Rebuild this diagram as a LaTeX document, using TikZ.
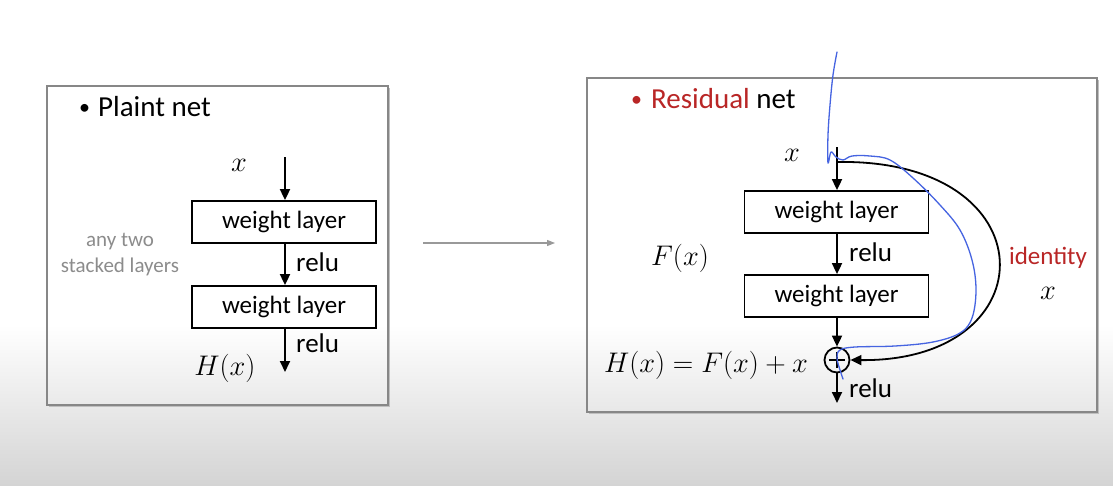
\documentclass[tikz,border=0pt]{standalone}
\usepackage{graphicx}
\usepackage{fontspec}
\setmainfont{Carlito}
\usetikzlibrary{arrows.meta}
\definecolor{resred}{RGB}{185,38,38}
\definecolor{boxgray}{RGB}{135,135,135}
\definecolor{annblue}{RGB}{70,100,225}
\definecolor{bggray}{RGB}{212,212,212}
\newcommand{\mymath}[1]{\scalebox{1.14}{$#1$}}
\tikzset{
  wl/.style={draw, line width=1.8pt, minimum width=184pt, minimum height=42pt, inner sep=0pt, font=\fontsize{25}{28}\selectfont},
  arr/.style={line width=1.8pt, -{Triangle[length=11pt,width=10pt]}},
  lbl/.style={font=\fontsize{27}{30}\selectfont, inner sep=0pt},
  mth/.style={font=\fontsize{24.88}{30}\selectfont, inner sep=0pt},
  frame/.style={draw=boxgray, line width=1.4pt},
  ttl/.style={font=\fontsize{29}{32}\selectfont, inner sep=0pt, anchor=base west},
  blt/.style={font=\fontsize{22}{26}\selectfont, inner sep=0pt, anchor=base west},
}
\begin{document}
\begin{tikzpicture}[x=1pt,y=-1pt]
\useasboundingbox (0,0) rectangle (1113,485);
\fill[white] (0,0) rectangle (1113,330);
\shade[top color=white, bottom color=bggray] (0,325) rectangle (1113,485);

% ---------------- Left: plain net ----------------
\draw[frame] (47,86) rectangle (388,405);
\draw[black!25, line width=1pt] (49,406.5) -- (389.5,406.5) -- (389.5,88);
\node[blt] (pb) at (79,114) {\textbullet};
\node[ttl] (pt) at (98,116) {Plaint net};

\coordinate (lin) at (285,157);
\node[wl] (lw1) at (284,222) {weight layer};
\node[wl] (lw2) at (284,307) {weight layer};
\coordinate (lout) at (285,372);
\draw[arr] (lin) -- (lw1.north -| lin);
\draw[arr] (lw1.south -| lin) -- (lw2.north -| lin);
\draw[arr] (lw2.south -| lin) -- (lout);
\node[mth] (lx) at (239,165) {\mymath{x}};
\node[lbl, anchor=west] (lr1) at (296,262) {relu};
\node[lbl, anchor=west] (lr2) at (296,343) {relu};
\node[mth] (lh) at (225,368) {\mymath{H(x)}};
\node[font=\fontsize{21}{26}\selectfont, text=black!45, align=center, inner sep=0pt] (any) at (120,255) {any two\\stacked layers};

% ---------------- middle arrow ----------------
\coordinate (ma) at (423,243);
\coordinate (mb) at (555,243);
\draw[black!40, line width=1.2pt, -{Triangle[length=8pt,width=6pt]}] (ma) -- (mb);

% ---------------- Right: residual net ----------------
\draw[frame] (587,78) rectangle (1097,412);
\draw[black!25, line width=1pt] (589,413.5) -- (1098.5,413.5) -- (1098.5,80);
\node[blt, text=resred] (rb) at (631,106) {\textbullet};
\node[ttl] (rt) at (651,108) {\textcolor{resred}{Residual} net};

\coordinate (rin) at (837,147);
\coordinate (rsplit) at (837,162);
\node[wl] (rw1) at (836.5,212) {weight layer};
\node[wl] (rw2) at (836.5,296) {weight layer};
\node[draw, circle, line width=1.8pt, minimum size=25pt, inner sep=0pt,
      path picture={\draw[line width=1.5pt] (path picture bounding box.center) ++(-8pt,0) -- ++(16pt,0);
                    \draw[line width=1.5pt] (path picture bounding box.center) ++(0,-8pt) -- ++(0,16pt);}] (plus) at (837,360) {};
\coordinate (rout) at (837,403);
\draw[arr] (rin) -- (rw1.north -| rin);
\draw[arr] (rw1.south -| rin) -- (rw2.north -| rin);
\draw[arr] (rw2.south -| rin) -- (plus.north);
\draw[arr] (plus.south) -- (rout);
\draw[arr] (rsplit) .. controls (1050,158) and (1050,362) .. (plus.east);

\node[mth] (rx) at (792,155) {\mymath{x}};
\node[lbl, anchor=west] (rr1) at (849,252) {relu};
\node[lbl, anchor=west] (rr2) at (849,388) {relu};
\node[mth] (rf) at (680,258) {\mymath{F(x)}};
\node[mth, anchor=east] (rh) at (808,365) {\mymath{H(x)=F(x)+x}};
\node[lbl, text=resred, font=\fontsize{25}{28}\selectfont] (id) at (1048,258) {identity};
\node[mth] (idx) at (1048,293) {\mymath{x}};

% ---------------- blue hand annotation ----------------
\draw[annblue, line width=1.3pt, line cap=round, line join=round]
  plot[smooth, tension=0.6] coordinates {(837,52) (833,75) (830,105) (828,135) (828,163) (831,152) (836,157) (843,160) (852,156) (870,156) (890,160) (913,178) (940,205) (960,230) (972,260) (976,290) (972,318) (960,333) (933,342) (895,346) (855,347) (840,350) (837,358) (840,370) (843,379)};
\end{tikzpicture}
\end{document}
